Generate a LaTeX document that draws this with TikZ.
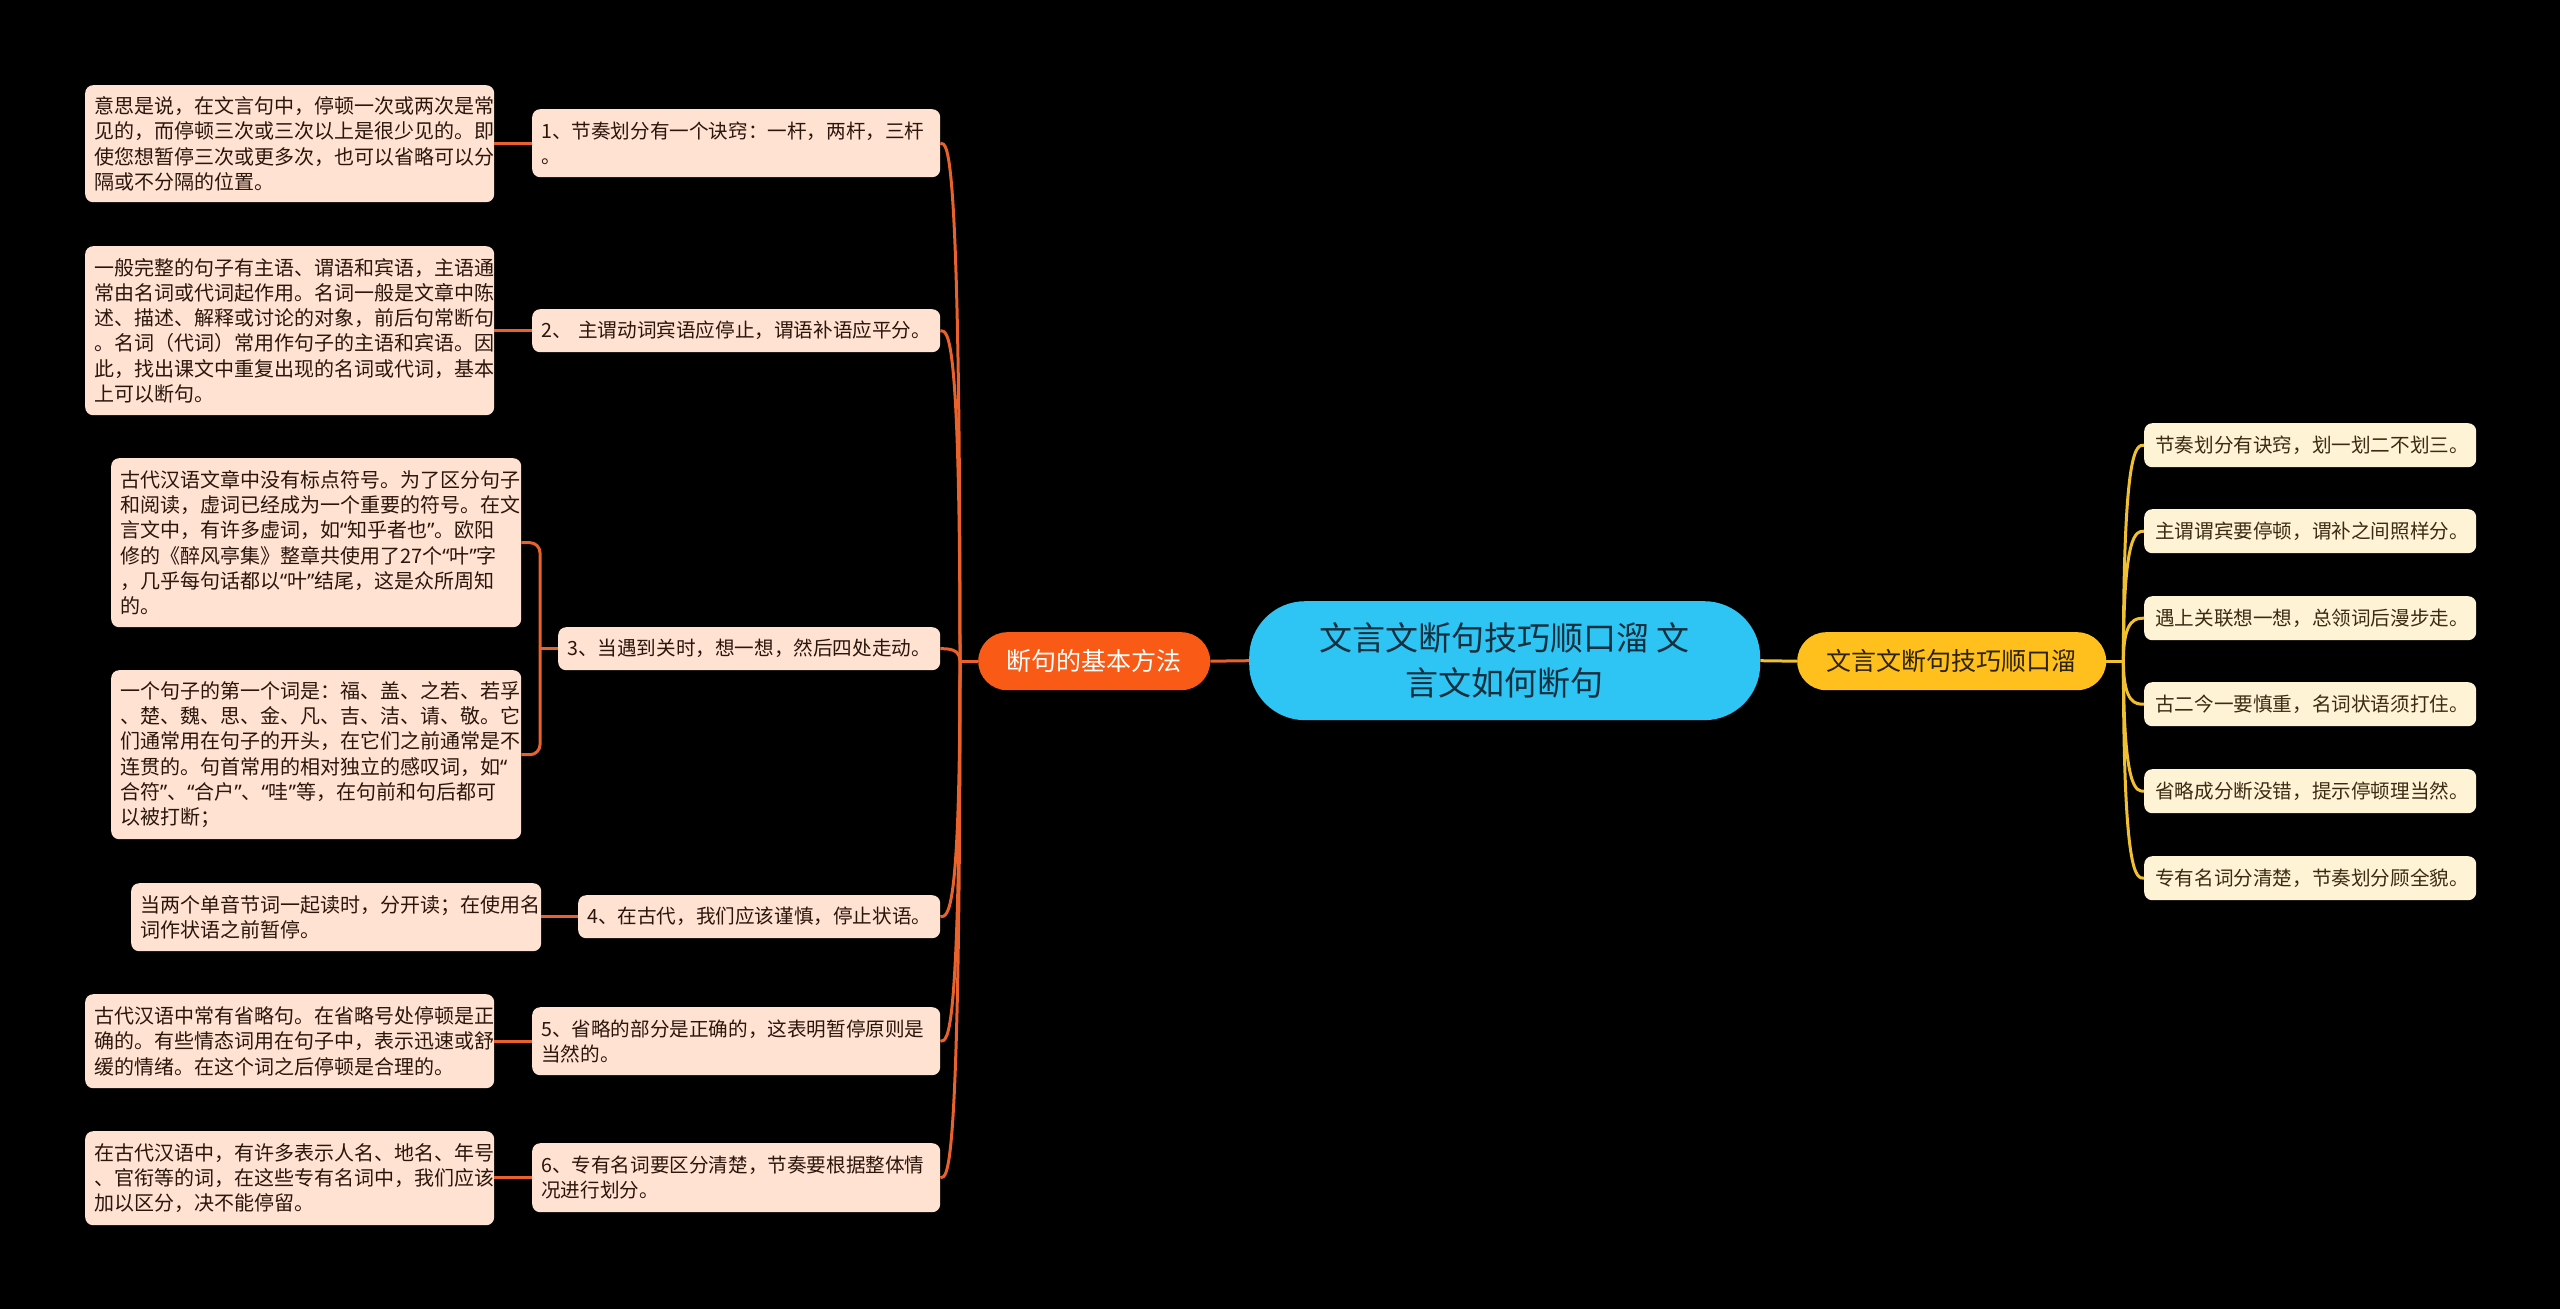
\documentclass[tikz,border=0pt]{standalone}
\usepackage{fontspec}
\newfontfamily\cjk{Noto Sans CJK SC}
\newfontfamily\qf{Noto Sans}
\newcommand\myoq{{\qf “}}
\newcommand\mycq{{\qf ”}}
\usetikzlibrary{calc}
\definecolor{peach}{HTML}{FFE2D2}
\definecolor{cream}{HTML}{FFF3D6}
\definecolor{leaftext}{HTML}{2B160C}
\definecolor{creamtext}{HTML}{3A2B12}
\definecolor{rootfill}{HTML}{2EC5F4}
\definecolor{roottext}{HTML}{14303F}
\definecolor{lmfill}{HTML}{F95A16}
\definecolor{rmfill}{HTML}{FFC01E}
\definecolor{rmtext}{HTML}{2E2300}
\definecolor{orangeline}{HTML}{E9612B}
\definecolor{yellowline}{HTML}{F0C030}
\newcommand\myleaffont{\cjk\fontsize{20}{25.3}\selectfont}
\newcommand\mysubfont{\cjk\fontsize{19.6}{25.3}\selectfont}
\newcommand\myrightfont{\cjk\fontsize{19.6}{25}\selectfont}
\begin{document}
\begin{tikzpicture}[x=1pt,y=-1pt,
  leaf/.style={fill=peach, rounded corners=8pt, anchor=north west, inner xsep=9pt, inner ysep=0pt, align=left, font=\myleaffont, text=leaftext},
  subn/.style={fill=peach, rounded corners=8pt, anchor=north west, inner xsep=9pt, inner ysep=0pt, align=left, font=\mysubfont, text=leaftext},
  rnode/.style={fill=cream, rounded corners=8pt, anchor=north west, inner xsep=11pt, inner ysep=0pt, align=left, font=\myrightfont, text=creamtext, text width=310pt, minimum height=44pt},
  oline/.style={draw=orangeline, line width=3pt},
  yline/.style={draw=yellowline, line width=3pt}]
\useasboundingbox (0,0) rectangle (2560,1309);
\fill[black] (0,0) rectangle (2560,1309);

% root and main branches
\node[fill=rootfill, rounded corners=56pt, anchor=north west, minimum width=511pt, minimum height=119pt, inner sep=0pt, align=center, text=roottext, font=\cjk\fontsize{33}{45}\selectfont] (root) at (1249,601) {文言文断句技巧顺口溜 文\\言文如何断句};
\node[fill=lmfill, rounded corners=29pt, anchor=north west, minimum width=232pt, minimum height=58pt, inner sep=0pt, text=white, font=\cjk\fontsize{25}{30}\selectfont] (lm) at (978,632) {断句的基本方法};
\node[fill=rmfill, rounded corners=29pt, anchor=north west, minimum width=309pt, minimum height=58pt, inner sep=0pt, text=rmtext, font=\cjk\fontsize{25}{30}\selectfont] (rm) at (1797,632) {文言文断句技巧顺口溜};

% left sub nodes
\node[subn, text width=390pt, minimum height=68pt] (s1) at (532,109) {1、节奏划分有一个诀窍：一杆，两杆，三杆\\。};
\node[subn, text width=390pt, minimum height=43pt] (s2) at (532,309) {2、 主谓动词宾语应停止，谓语补语应平分。};
\node[subn, text width=364pt, minimum height=43pt] (s3) at (558,627) {3、当遇到关时，想一想，然后四处走动。};
\node[subn, text width=344pt, minimum height=43pt] (s4) at (578,895) {4、在古代，我们应该谨慎，停止状语。};
\node[subn, text width=390pt, minimum height=68pt] (s5) at (532,1007) {5、省略的部分是正确的，这表明暂停原则是\\当然的。};
\node[subn, text width=390pt, minimum height=69pt] (s6) at (532,1143) {6、专有名词要区分清楚，节奏要根据整体情\\况进行划分。};

% leaves
\node[leaf, text width=391pt, minimum height=117pt] (l1) at (85,85) {意思是说，在文言句中，停顿一次或两次是常\\见的，而停顿三次或三次以上是很少见的。即\\使您想暂停三次或更多次，也可以省略可以分\\隔或不分隔的位置。};
\node[leaf, text width=391pt, minimum height=169pt] (l2) at (85,246) {一般完整的句子有主语、谓语和宾语，主语通\\常由名词或代词起作用。名词一般是文章中陈\\述、描述、解释或讨论的对象，前后句常断句\\。名词（代词）常用作句子的主语和宾语。因\\此，找出课文中重复出现的名词或代词，基本\\上可以断句。};
\node[leaf, text width=392pt, minimum height=169pt] (l3a) at (111,458) {古代汉语文章中没有标点符号。为了区分句子\\和阅读，虚词已经成为一个重要的符号。在文\\言文中，有许多虚词，如\myoq 知乎者也\mycq 。欧阳\\修的《醉风亭集》整章共使用了27个\myoq 叶\mycq 字\\，几乎每句话都以\myoq 叶\mycq 结尾，这是众所周知\\的。};
\node[leaf, text width=392pt, minimum height=169pt] (l3b) at (111,670) {一个句子的第一个词是：福、盖、之若、若孚\\、楚、魏、思、金、凡、吉、洁、请、敬。它\\们通常用在句子的开头，在它们之前通常是不\\连贯的。句首常用的相对独立的感叹词，如\myoq\\合符\mycq 、\myoq 合户\mycq 、\myoq 哇\mycq 等，在句前和句后都可\\以被打断；};
\node[leaf, text width=392pt, minimum height=68pt] (l4) at (131,883) {当两个单音节词一起读时，分开读；在使用名\\词作状语之前暂停。};
\node[leaf, text width=391pt, minimum height=94pt] (l5) at (85,994) {古代汉语中常有省略句。在省略号处停顿是正\\确的。有些情态词用在句子中，表示迅速或舒\\缓的情绪。在这个词之后停顿是合理的。};
\node[leaf, text width=391pt, minimum height=94pt] (l6) at (85,1131) {在古代汉语中，有许多表示人名、地名、年号\\、官衔等的词，在这些专有名词中，我们应该\\加以区分，决不能停留。};

% right nodes
\node[rnode] (r1) at (2144,423) {节奏划分有诀窍，划一划二不划三。};
\node[rnode] (r2) at (2144,509) {主谓谓宾要停顿，谓补之间照样分。};
\node[rnode] (r3) at (2144,596) {遇上关联想一想，总领词后漫步走。};
\node[rnode] (r4) at (2144,682) {古二今一要慎重，名词状语须打住。};
\node[rnode] (r5) at (2144,769) {省略成分断没错，提示停顿理当然。};
\node[rnode] (r6) at (2144,856) {专有名词分清楚，节奏划分顾全貌。};

% connectors: root to main branches
\draw[oline] (root.west) -- (lm.east);
\draw[yline] (root.east) -- (rm.west);

% left spine
\coordinate (jL) at ($(lm.west)+(-18,0)$);
\draw[oline] (lm.west) -- (jL);
\foreach \s in {s1,s2,s3,s4,s5,s6}{
  \draw[oline] (jL) .. controls (jL |- \s.east) and ($(\s.east)+(8,0)$) .. (\s.east);
}

% right spine
\coordinate (jR) at ($(rm.east)+(17,0)$);
\draw[yline] (rm.east) -- (jR);
\foreach \r in {r1,r2,r3,r4,r5,r6}{
  \draw[yline] (jR) .. controls (jR |- \r.west) and ($(\r.west)+(-8,0)$) .. (\r.west);
}

% leaf connectors
\draw[oline] (s1.west) -- (s1.west -| l1.east);
\draw[oline] (s2.west) -- (s2.west -| l2.east);
\draw[oline] (s4.west) -- (s4.west -| l4.east);
\draw[oline] (s5.west) -- (s5.west -| l5.east);
\draw[oline] (s6.west) -- (s6.west -| l6.east);
\coordinate (b3) at ($(s3.west)+(-18,0)$);
\draw[oline] (s3.west) -- (b3);
\draw[oline, rounded corners=10pt] (l3a.east) -| (b3) |- (l3b.east);
\end{tikzpicture}
\end{document}
